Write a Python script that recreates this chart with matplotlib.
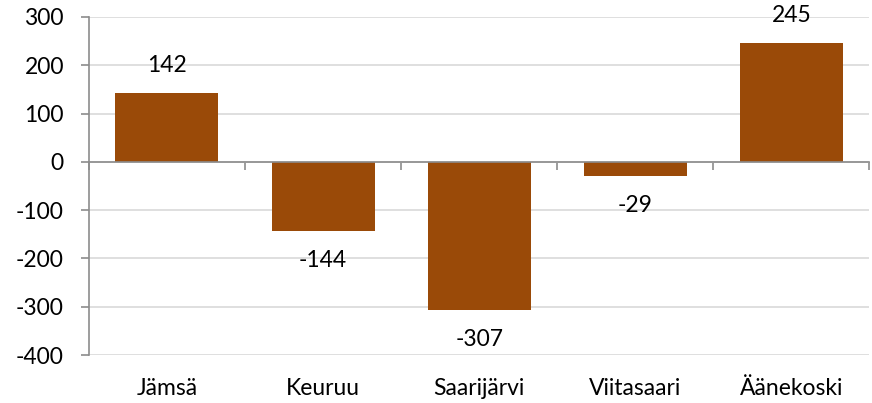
import matplotlib
matplotlib.use("Agg")
import matplotlib.pyplot as plt
from matplotlib.transforms import blended_transform_factory

categories = ["Jämsä", "Keuruu", "Saarijärvi", "Viitasaari", "Äänekoski"]
values = [142, -144, -307, -29, 245]
y_ticks = [-400, -300, -200, -100, 0, 100, 200, 300]

BAR_COLOR = "#9a4a08"
AXIS_GRAY = "#8c8c8c"
GRID_GRAY = "#d9d9d9"
FS = 16.5

plt.rcParams["font.family"] = ["Lato", "DejaVu Sans"]

fig = plt.figure(figsize=(8.72, 4.03), dpi=100)
ax = fig.add_axes([0.102, 0.119, 0.895, 0.839])

x = list(range(len(categories)))
ax.bar(x, values, width=0.66, color=BAR_COLOR, zorder=3)

ax.set_ylim(-400, 300)
ax.set_xlim(-0.5, len(categories) - 0.5)
ax.set_yticks(y_ticks)
ax.set_yticklabels([str(v) for v in y_ticks], fontsize=FS)
ax.yaxis.grid(True, color=GRID_GRAY, linewidth=1.2, zorder=0)

for s in ["top", "right"]:
    ax.spines[s].set_visible(False)
ax.spines["left"].set_color(AXIS_GRAY)
ax.spines["left"].set_linewidth(1.2)
ax.spines["bottom"].set_position(("data", 0))
ax.spines["bottom"].set_color(AXIS_GRAY)
ax.spines["bottom"].set_linewidth(1.2)
ax.spines["bottom"].set_zorder(4)

ax.set_xticks([i - 0.5 for i in range(len(categories) + 1)])
ax.set_xticklabels([])
ax.tick_params(axis="x", length=6, color=AXIS_GRAY, width=1.2)
ax.tick_params(axis="y", length=6, color=AXIS_GRAY, width=1.2, pad=12)

trans = blended_transform_factory(ax.transData, ax.transAxes)
for i, name in enumerate(categories):
    ax.text(i, -0.098, name, transform=trans, ha="center", va="center", fontsize=FS)

for i, v in enumerate(values):
    off = 20 if v >= 0 else -21
    ax.annotate(str(v), (i, v), xytext=(0, off), textcoords="offset points",
                ha="center", va="center", fontsize=FS)

fig.savefig("out.png", dpi=100)
